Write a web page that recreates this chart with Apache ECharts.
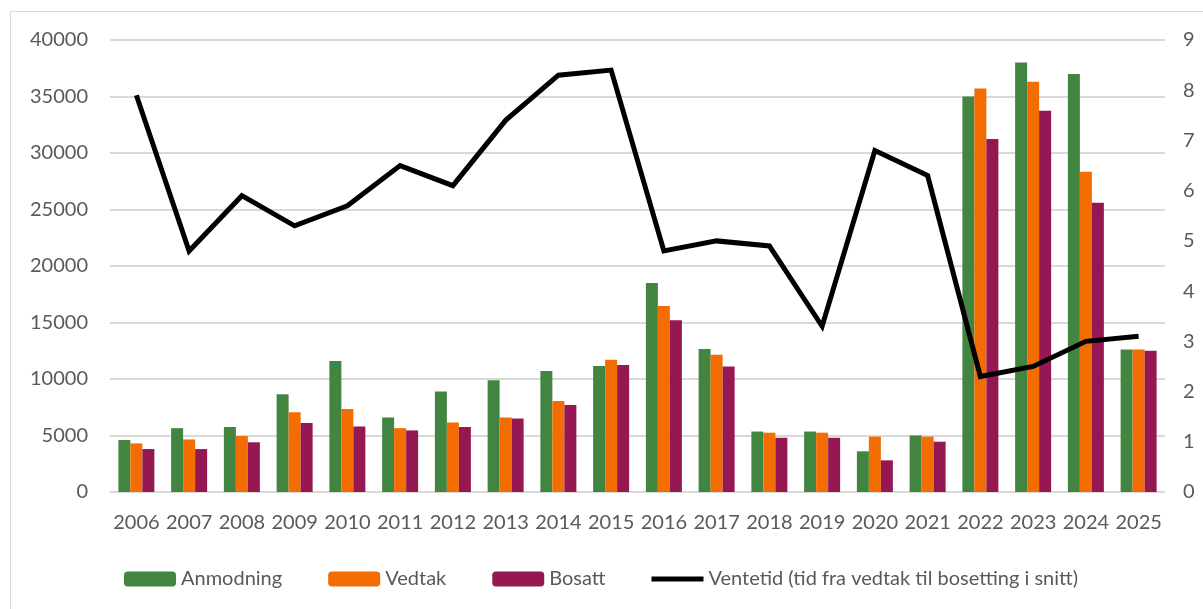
<!DOCTYPE html>
<html>
<head>
<meta charset="utf-8">
<script src="https://cdn.jsdelivr.net/npm/echarts@6/dist/echarts.min.js"></script>
<style>
  html, body { margin: 0; padding: 0; background: #fff; }
  #frame { position: absolute; left: 10px; top: 11px; width: 1300px; height: 700px;
           border-left: 1px solid #d9d9d9; border-top: 1px solid #d9d9d9; }
  #chart { position: absolute; left: 0; top: 0; width: 1203px; height: 609px; }
</style>
</head>
<body>
<div id="frame"></div>
<div id="chart"></div>
<script>
var years = ['2006','2007','2008','2009','2010','2011','2012','2013','2014','2015',
             '2016','2017','2018','2019','2020','2021','2022','2023','2024','2025'];
var anmodning = [4600, 5650, 5750, 8650, 11600, 6600, 8900, 9900, 10700, 11150,
                 18500, 12650, 5350, 5350, 3600, 5000, 35000, 38000, 37000, 12600];
var vedtak    = [4300, 4650, 4950, 7050, 7350, 5650, 6150, 6600, 8050, 11700,
                 16450, 12150, 5250, 5250, 4900, 4900, 35700, 36300, 28350, 12600];
var bosatt    = [3800, 3800, 4400, 6100, 5800, 5450, 5750, 6500, 7700, 11250,
                 15200, 11100, 4800, 4800, 2800, 4450, 31250, 33750, 25600, 12500];
var ventetid  = [7.9, 4.8, 5.9, 5.3, 5.7, 6.5, 6.1, 7.4, 8.3, 8.4,
                 4.8, 5.0, 4.9, 3.3, 6.8, 6.3, 2.3, 2.5, 3.0, 3.1];

var font = 'Lato';
var textColor = '#595959';
// thick black bar in the middle of the legend box
var lineIcon = 'path://M0,0 L0,0 M0,5 L52,5 L52,10 L0,10 Z M52,15 L52,15';

var myChart = echarts.init(document.getElementById('chart'));
var option = {
    animation: false,
    textStyle: { fontFamily: font },
    grid: { left: 110, right: 38, top: 40, bottom: 117, containLabel: false },
    legend: {
        left: 119,
        top: 564,
        itemWidth: 52,
        itemHeight: 15,
        itemGap: 46,
        textStyle: { fontFamily: font, fontSize: 20, color: textColor },
        data: ['Anmodning', 'Vedtak', 'Bosatt',
               { name: 'Ventetid (tid fra vedtak til bosetting i snitt)', icon: lineIcon }]
    },
    xAxis: {
        type: 'category',
        data: years,
        axisLine: { show: false },
        axisTick: { show: false },
        axisLabel: { color: textColor, fontSize: 20, fontFamily: font, margin: 21, interval: 0 }
    },
    yAxis: [{
        type: 'value',
        min: 0, max: 40000, interval: 5000,
        axisLine: { show: false },
        axisTick: { show: false },
        splitLine: { lineStyle: { color: '#d9d9d9', width: 2 } },
        axisLabel: { color: textColor, fontSize: 20, fontFamily: font, margin: 22,
                     formatter: function (v) { return String(v); } }
    }, {
        type: 'value',
        min: 0, max: 9, interval: 1,
        axisLine: { show: false },
        axisTick: { show: false },
        splitLine: { show: false },
        axisLabel: { color: textColor, fontSize: 20, fontFamily: font, margin: 18 }
    }],
    series: [{
        name: 'Anmodning', type: 'bar', data: anmodning,
        barWidth: 12, barGap: '0%',
        itemStyle: { color: '#428541' }
    }, {
        name: 'Vedtak', type: 'bar', data: vedtak,
        barWidth: 12, barGap: '0%',
        itemStyle: { color: '#f46d03' }
    }, {
        name: 'Bosatt', type: 'bar', data: bosatt,
        barWidth: 12, barGap: '0%',
        itemStyle: { color: '#951853' }
    }, {
        name: 'Ventetid (tid fra vedtak til bosetting i snitt)', type: 'line',
        yAxisIndex: 1, data: ventetid,
        symbol: 'none',
        lineStyle: { color: '#000', width: 5, join: 'miter' },
        itemStyle: { color: '#000' }
    }]
};
myChart.setOption(option, true);
</script>
</body>
</html>
